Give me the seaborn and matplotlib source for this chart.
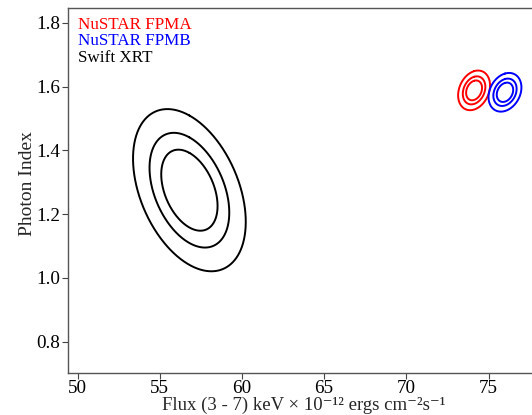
import numpy as np
import pandas as pd
import matplotlib
matplotlib.use("Agg")
import matplotlib.pyplot as plt
import seaborn as sns

# ---- data ----
instruments = ["NuSTAR FPMA", "NuSTAR FPMB", "Swift XRT"]
colors = ["#ff0000", "#0000ff", "#000000"]
flux_center = [74.12, 76.00, 56.80]       # 1e-12 erg cm^-2 s^-1
index_center = [1.588, 1.582, 1.275]       # photon index
flux_sigma = [0.32, 0.33, 1.13]
index_sigma = [0.0205, 0.0200, 0.0838]
correlation = [0.25, 0.25, -0.39]
delta_chi2_levels = [2.30, 4.61, 9.21]    # 68%, 90%, 99% for 2 parameters
x_ticks = [50, 55, 60, 65, 70, 75]
y_ticks = [0.8, 1.0, 1.2, 1.4, 1.6, 1.8]

sns.set_style("ticks")
plt.rcParams["font.family"] = ["Liberation Serif", "DejaVu Serif"]
plt.rcParams["mathtext.fontset"] = "stix"

fig = plt.figure(figsize=(5.32, 4.15), dpi=100)
ax = fig.add_axes([0.128, 0.1014, 1.011 - 0.128, 0.9805 - 0.1014])

t = np.linspace(np.pi / 2, np.pi / 2 + 2 * np.pi, 721)
for name, c, fx, fy, sx, sy, r in zip(instruments, colors, flux_center, index_center,
                                      flux_sigma, index_sigma, correlation):
    cov = np.array([[sx * sx, r * sx * sy], [r * sx * sy, sy * sy]])
    L = np.linalg.cholesky(cov)
    for lev in delta_chi2_levels:
        pts = np.sqrt(lev) * (L @ np.vstack([np.cos(t), np.sin(t)]))
        df = pd.DataFrame({"flux": fx + pts[0], "index": fy + pts[1]})
        sns.lineplot(data=df, x="flux", y="index", sort=False, estimator=None,
                     color=c, lw=1.4, ax=ax)

ax.set_xlim(49.42, 78.0)
ax.set_ylim(0.702, 1.846)
ax.set_xticks(x_ticks)
ax.set_yticks(y_ticks)
ax.set_xticklabels([str(v) for v in x_ticks])
ax.set_yticklabels([f"{v:.1f}" for v in y_ticks])
ax.tick_params(labelsize=13.8, length=4, width=0.8, pad=1.8,
               colors="#444444", labelcolor="black")
ax.tick_params(axis="x", pad=1.2)
for s in ax.spines.values():
    s.set_color("#555555")
    s.set_linewidth(1.0)

ax.set_xlabel("Flux (3 - 7) keV \u00d7 10\u207b\u00b9\u00b2 ergs cm\u207b\u00b2s\u207b\u00b9",
              fontsize=13.5, va="baseline")
ax.xaxis.set_label_coords(0.502, -0.1017)
ax.set_ylabel("Photon Index", fontsize=14)
ax.yaxis.set_label_coords(-0.0685, 0.519)

for i, (name, c) in enumerate(zip(instruments, colors)):
    ax.text(0.0213, 0.942 - i * 0.0444, name, color=c, fontsize=12.3,
            transform=ax.transAxes, va="baseline", ha="left")

fig.savefig("out.png", dpi=100)
